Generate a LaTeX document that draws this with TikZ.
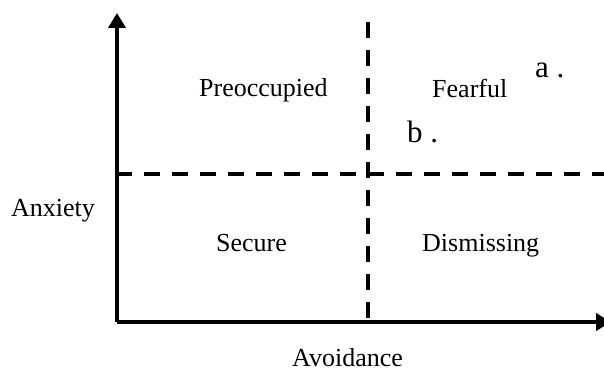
\documentclass[tikz,border=0pt]{standalone}
\usepackage{fontspec}
\setmainfont{Liberation Serif}
\usetikzlibrary{arrows.meta}
\begin{document}
\begin{tikzpicture}[x=1pt,y=-1pt,
  axis/.style={line width=4pt,line join=miter,-{Triangle[length=15pt,width=17pt]}},
  dashline/.style={line width=4pt,dash pattern=on 16pt off 12pt},
  lbl/.style={inner sep=0pt,anchor=base,font=\fontsize{26}{31}\selectfont},
  pt/.style={inner sep=0pt,anchor=base west,font=\fontsize{31}{37}\selectfont}]
\useasboundingbox (0,0) rectangle (604,371);
\coordinate (origin) at (117,322);
\coordinate (ytop) at (117,13);
\coordinate (xend) at (611,322);
\coordinate (vtop) at (368,22);
\coordinate (vbot) at (368,322);
\coordinate (hleft) at (116,174);
\coordinate (hright) at (604,174);
\draw[dashline] (vtop) -- (vbot);
\draw[dashline] (hleft) -- (hright);
\draw[axis] (origin) -- (ytop);
\draw[axis] (origin) -- (xend);
\node[lbl,anchor=base west] (pre) at (199,97) {Preoccupied};
\node[lbl,anchor=base west] (fear) at (432,98) {Fearful};
\node[lbl,anchor=base west] (sec) at (216,251) {Secure};
\node[lbl,anchor=base west] (dis) at (422,251) {Dismissing};
\node[lbl,anchor=base west] (anx) at (11,217) {Anxiety};
\node[lbl,anchor=base west] (avo) at (292,366) {Avoidance};
\node[pt] (a) at (535,78) {a .};
\node[pt] (b) at (407,143) {b .};
\end{tikzpicture}
\end{document}
